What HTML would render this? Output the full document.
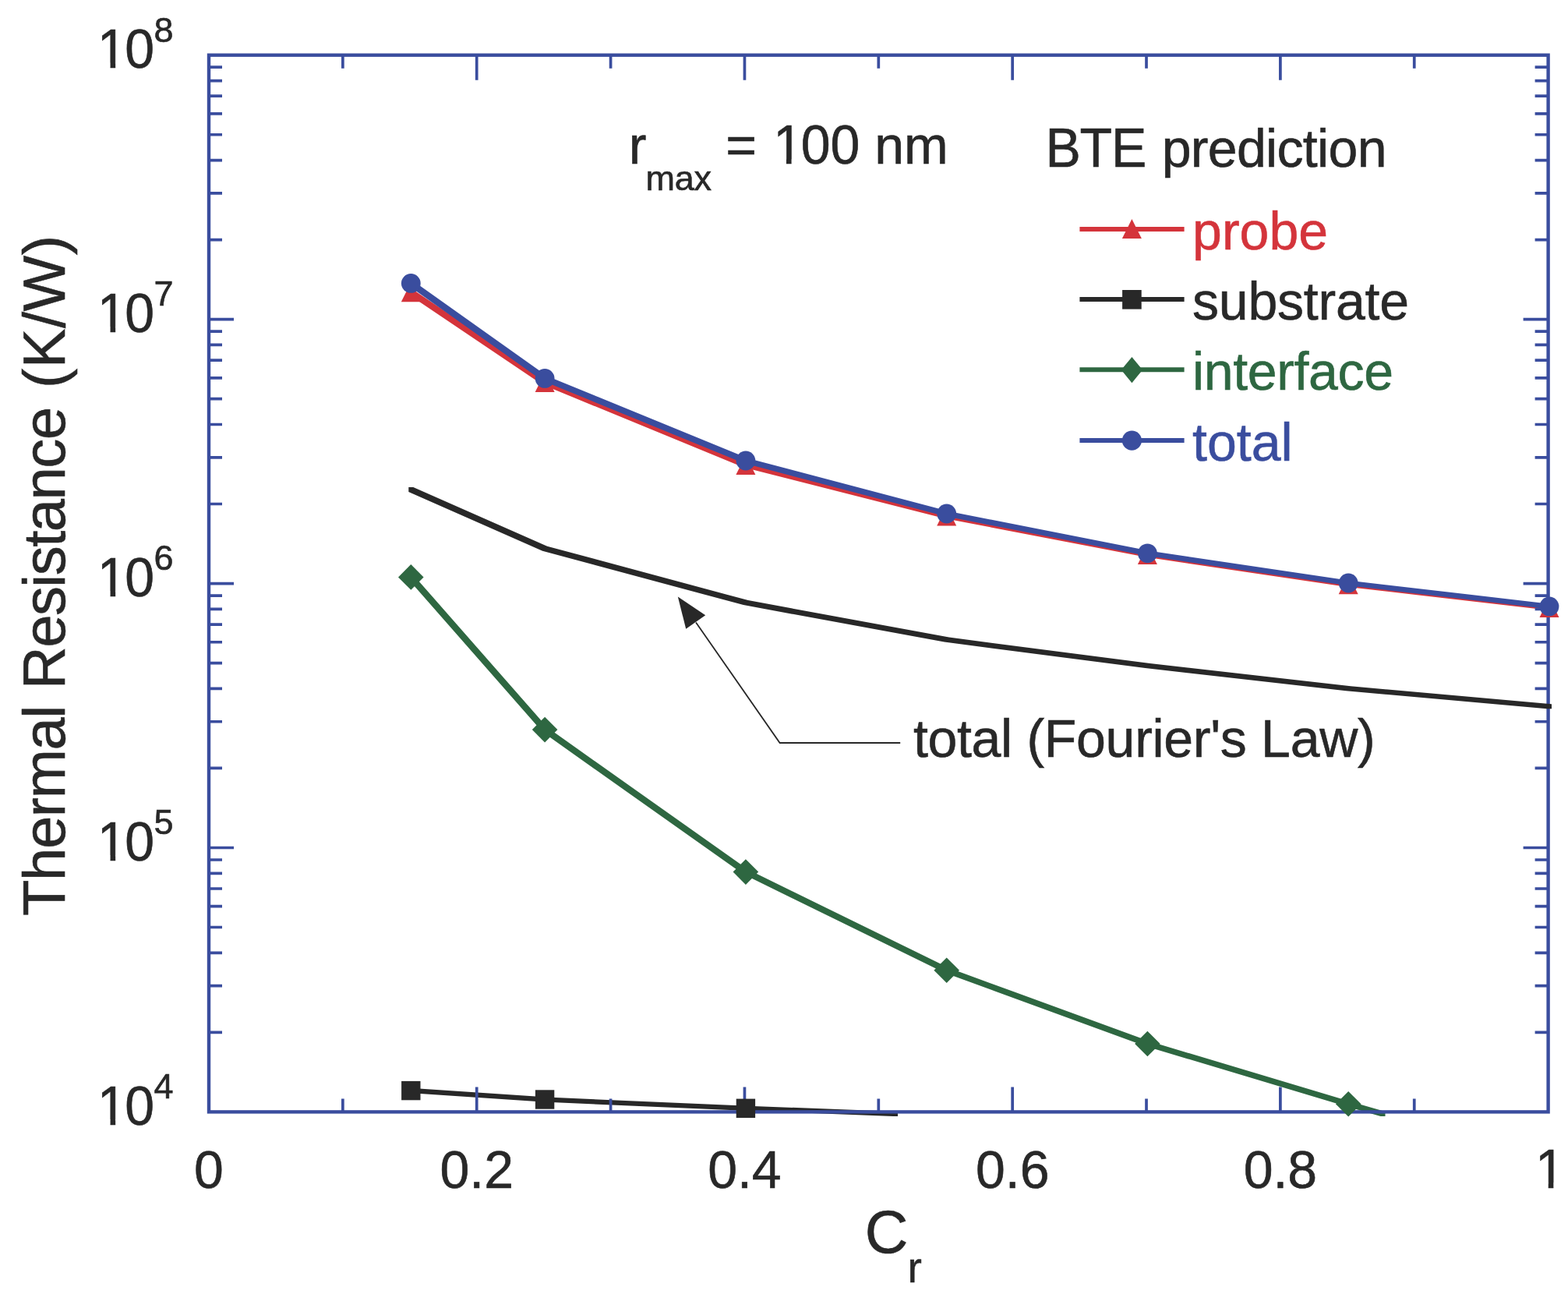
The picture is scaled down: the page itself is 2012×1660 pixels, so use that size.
<!DOCTYPE html><html><head><meta charset="utf-8"><title>Thermal Resistance vs Cr</title><style>html,body{margin:0;padding:0;background:#fff;overflow:hidden}svg{display:block}text{font-family:'Liberation Sans', Arial, sans-serif;stroke-width:0.6px}</style></head><body>
<svg width="2012" height="1660" viewBox="0 0 2012 1660">
<defs><clipPath id="lc1" clipPathUnits="userSpaceOnUse"><rect x="-40" y="-136" width="440" height="129.92"/><rect x="-40.00" y="-7.08" width="45.44" height="68"/><rect x="19.06" y="-7.08" width="6.60" height="68"/><rect x="38.75" y="-7.08" width="361.25" height="68"/></clipPath></defs>
<rect width="2012" height="1660" fill="#fff"/>
<path d="M524.3 737.4L530.3 737.4L702.1 933.1L702.1 939.1L696.1 939.1L524.3 743.4ZM696.1 933.1L702.1 933.1L959.9 1115.6L959.9 1121.6L953.9 1121.6L696.1 939.1ZM953.9 1115.6L959.9 1115.6L1217.7 1241.8L1217.7 1247.8L1211.7 1247.8L953.9 1121.6ZM1211.7 1241.8L1217.7 1241.8L1475.5 1336.0L1475.5 1342.0L1469.5 1342.0L1211.7 1247.8ZM1469.5 1336.0L1475.5 1336.0L1733.2 1413.2L1733.2 1419.2L1727.2 1419.2L1469.5 1342.0ZM1727.2 1413.2L1733.2 1413.2L1777.5 1425.9L1777.5 1431.9L1771.5 1431.9L1727.2 1419.2Z" fill="#2e6741"/>
<path d="M524.3 1396.1L530.3 1396.1L702.1 1407.5L702.1 1413.5L696.1 1413.5L524.3 1402.1ZM696.1 1407.5L702.1 1407.5L959.9 1418.8L959.9 1424.8L953.9 1424.8L696.1 1413.5ZM953.9 1418.8L959.9 1418.8L1152.0 1425.9L1152.0 1431.9L1146.0 1431.9L953.9 1424.8Z" fill="#282828"/>
<path d="M524.3 371.8L530.3 371.8L702.1 487.5L702.1 493.5L696.1 493.5L524.3 377.8ZM696.1 487.5L702.1 487.5L959.9 593.4L959.9 599.4L953.9 599.4L696.1 493.5ZM953.9 593.4L959.9 593.4L1217.7 659.0L1217.7 665.0L1211.7 665.0L953.9 599.4ZM1211.7 659.0L1217.7 659.0L1475.5 708.6L1475.5 714.6L1469.5 714.6L1211.7 665.0ZM1469.5 708.6L1475.5 708.6L1733.2 746.7L1733.2 752.7L1727.2 752.7L1469.5 714.6ZM1727.2 746.7L1733.2 746.7L1991.0 776.6L1991.0 782.6L1985.0 782.6L1727.2 752.7Z" fill="#d4343b"/>
<path d="M524.3 360.4L530.3 360.4L702.1 482.4L702.1 488.4L696.1 488.4L524.3 366.4ZM696.1 482.4L702.1 482.4L959.9 588.0L959.9 594.0L953.9 594.0L696.1 488.4ZM953.9 588.0L959.9 588.0L1217.7 656.0L1217.7 662.0L1211.7 662.0L953.9 594.0ZM1211.7 656.0L1217.7 656.0L1475.5 706.8L1475.5 712.8L1469.5 712.8L1211.7 662.0ZM1469.5 706.8L1475.5 706.8L1733.2 745.0L1733.2 751.0L1727.2 751.0L1469.5 712.8ZM1727.2 745.0L1733.2 745.0L1991.0 774.9L1991.0 780.9L1985.0 780.9L1727.2 751.0Z" fill="#3a4d9e"/>
<rect x="268.0" y="70.7" width="1718.6" height="1355.7" fill="none" stroke="#3a4d9e" stroke-width="4.4"/>
<path d="M439.86 1426.4v-17.0M439.86 70.7v17.0M611.72 1426.4v-32.0M611.72 70.7v32.0M783.58 1426.4v-17.0M783.58 70.7v17.0M955.44 1426.4v-32.0M955.44 70.7v32.0M1127.30 1426.4v-17.0M1127.30 70.7v17.0M1299.16 1426.4v-32.0M1299.16 70.7v32.0M1471.02 1426.4v-17.0M1471.02 70.7v17.0M1642.88 1426.4v-32.0M1642.88 70.7v32.0M1814.74 1426.4v-17.0M1814.74 70.7v17.0M268.0 1324.37h17.0M1986.6 1324.37h-17.0M268.0 1264.69h17.0M1986.6 1264.69h-17.0M268.0 1222.35h17.0M1986.6 1222.35h-17.0M268.0 1189.50h17.0M1986.6 1189.50h-17.0M268.0 1162.67h17.0M1986.6 1162.67h-17.0M268.0 1139.98h17.0M1986.6 1139.98h-17.0M268.0 1120.32h17.0M1986.6 1120.32h-17.0M268.0 1102.98h17.0M1986.6 1102.98h-17.0M268.0 1087.48h32.0M1986.6 1087.48h-32.0M268.0 985.45h17.0M1986.6 985.45h-17.0M268.0 925.77h17.0M1986.6 925.77h-17.0M268.0 883.42h17.0M1986.6 883.42h-17.0M268.0 850.58h17.0M1986.6 850.58h-17.0M268.0 823.74h17.0M1986.6 823.74h-17.0M268.0 801.05h17.0M1986.6 801.05h-17.0M268.0 781.40h17.0M1986.6 781.40h-17.0M268.0 764.06h17.0M1986.6 764.06h-17.0M268.0 748.55h32.0M1986.6 748.55h-32.0M268.0 646.52h17.0M1986.6 646.52h-17.0M268.0 586.84h17.0M1986.6 586.84h-17.0M268.0 544.50h17.0M1986.6 544.50h-17.0M268.0 511.65h17.0M1986.6 511.65h-17.0M268.0 484.82h17.0M1986.6 484.82h-17.0M268.0 462.13h17.0M1986.6 462.13h-17.0M268.0 442.47h17.0M1986.6 442.47h-17.0M268.0 425.13h17.0M1986.6 425.13h-17.0M268.0 409.62h32.0M1986.6 409.62h-32.0M268.0 307.60h17.0M1986.6 307.60h-17.0M268.0 247.92h17.0M1986.6 247.92h-17.0M268.0 205.57h17.0M1986.6 205.57h-17.0M268.0 172.73h17.0M1986.6 172.73h-17.0M268.0 145.89h17.0M1986.6 145.89h-17.0M268.0 123.20h17.0M1986.6 123.20h-17.0M268.0 103.55h17.0M1986.6 103.55h-17.0M268.0 86.21h17.0M1986.6 86.21h-17.0" stroke="#3a4d9e" stroke-width="3.7" fill="none"/>
<path d="M524.3 624.9L530.3 624.9L702.1 700.7L702.1 706.7L696.1 706.7L524.3 630.9ZM696.1 700.7L702.1 700.7L959.9 770.1L959.9 776.1L953.9 776.1L696.1 706.7ZM953.9 770.1L959.9 770.1L1217.7 817.6L1217.7 823.6L1211.7 823.6L953.9 776.1ZM1211.7 817.6L1217.7 817.6L1475.5 851.0L1475.5 857.0L1469.5 857.0L1211.7 823.6ZM1469.5 851.0L1475.5 851.0L1733.2 880.2L1733.2 886.2L1727.2 886.2L1469.5 857.0ZM1727.2 880.2L1733.2 880.2L1991.0 903.2L1991.0 909.2L1985.0 909.2L1727.2 886.2Z" fill="#282828"/>
<polygon points="527.3,724.1 543.6,740.4 527.3,756.7 511.0,740.4" fill="#2e6741"/>
<polygon points="699.1,919.8 715.4,936.1 699.1,952.4 682.8,936.1" fill="#2e6741"/>
<polygon points="956.9,1102.3 973.2,1118.6 956.9,1134.9 940.6,1118.6" fill="#2e6741"/>
<polygon points="1214.7,1228.5 1231.0,1244.8 1214.7,1261.1 1198.4,1244.8" fill="#2e6741"/>
<polygon points="1472.4,1322.7 1488.7,1339.0 1472.4,1355.3 1456.1,1339.0" fill="#2e6741"/>
<polygon points="1730.2,1399.9 1746.5,1416.2 1730.2,1432.5 1713.9,1416.2" fill="#2e6741"/>
<rect x="515.1" y="1386.9" width="24.4" height="24.4" fill="#282828"/>
<rect x="686.9" y="1398.3" width="24.4" height="24.4" fill="#282828"/>
<rect x="944.7" y="1409.6" width="24.4" height="24.4" fill="#282828"/>
<polygon points="527.3,362.3 539.8,387.3 514.8,387.3" fill="#d4343b"/>
<polygon points="699.1,478.0 711.6,503.0 686.6,503.0" fill="#d4343b"/>
<polygon points="956.9,583.9 969.4,608.9 944.4,608.9" fill="#d4343b"/>
<polygon points="1214.7,649.5 1227.2,674.5 1202.2,674.5" fill="#d4343b"/>
<polygon points="1472.4,699.1 1484.9,724.1 1459.9,724.1" fill="#d4343b"/>
<polygon points="1730.2,737.2 1742.7,762.2 1717.7,762.2" fill="#d4343b"/>
<polygon points="1988.0,767.1 2000.5,792.1 1975.5,792.1" fill="#d4343b"/>
<circle cx="527.3" cy="363.4" r="12.4" fill="#3a4d9e"/>
<circle cx="699.1" cy="485.4" r="12.4" fill="#3a4d9e"/>
<circle cx="956.9" cy="591.0" r="12.4" fill="#3a4d9e"/>
<circle cx="1214.7" cy="659.0" r="12.4" fill="#3a4d9e"/>
<circle cx="1472.4" cy="709.8" r="12.4" fill="#3a4d9e"/>
<circle cx="1730.2" cy="748.0" r="12.4" fill="#3a4d9e"/>
<circle cx="1988.0" cy="777.9" r="12.4" fill="#3a4d9e"/>
<path d="M1155.2 953.0H1000.6L893 798.5" stroke="#282828" stroke-width="1.8" fill="none" stroke-linejoin="miter"/>
<polygon points="869.8,765.5 905.2,789.2 880.2,806.7" fill="#282828"/>
<path d="M1385.4 293.9H1519.6" stroke="#d4343b" stroke-width="6.0"/>
<path d="M1385.4 383.9H1519.6" stroke="#282828" stroke-width="6.0"/>
<path d="M1385.4 474.3H1519.6" stroke="#2e6741" stroke-width="6.0"/>
<path d="M1385.4 565.0H1519.6" stroke="#3a4d9e" stroke-width="6.0"/>
<polygon points="1452.4,281.1 1464.9,306.1 1439.9,306.1" fill="#d4343b"/>
<rect x="1440.1" y="372.0" width="24.6" height="24.6" fill="#282828"/>
<polygon points="1452.4,458.0 1466.1,474.6 1452.4,491.2 1438.7,474.6" fill="#2e6741"/>
<circle cx="1452.4" cy="565.1" r="12.6" fill="#3a4d9e"/>
<text x="1530.1" y="319.7" font-size="68" fill="#d4343b" stroke="#d4343b">probe</text>
<text x="1530.1" y="409.9" font-size="68" fill="#282828" stroke="#282828" style="letter-spacing:-0.22px">substrate</text>
<text x="1530.1" y="500.4" font-size="68" fill="#2e6741" stroke="#2e6741" style="letter-spacing:-0.37px">interface</text>
<text x="1530.1" y="590.6" font-size="68" fill="#3a4d9e" stroke="#3a4d9e">total</text>
<text x="806.8" y="210.3" font-size="68" fill="#282828" stroke="#282828">r</text>
<text x="828.5" y="243.7" font-size="45" fill="#282828" stroke="#282828" style="letter-spacing:-0.3px">max</text>
<text x="931.3" y="210.3" font-size="68" fill="#282828" stroke="#282828">=</text>
<text transform="translate(989.90 210.30) scale(1 1.025)" y="0" font-size="68" fill="#282828" stroke="#282828" clip-path="url(#lc1)"><tspan x="2.26">1</tspan><tspan x="37.82">0</tspan><tspan x="75.64">0</tspan></text>
<text x="1122.25" y="210.3" font-size="68" fill="#282828" stroke="#282828">nm</text>
<text transform="translate(1341.4 213.9) scale(1 1.04)" x="0" y="0" font-size="68" fill="#282828" stroke="#282828" style="letter-spacing:-1.2px">BTE</text>
<text x="1490.7" y="213.9" font-size="68" fill="#282828" stroke="#282828" style="letter-spacing:-0.67px">prediction</text>
<text x="1171.9" y="970.6" font-size="68" fill="#282828" stroke="#282828" style="letter-spacing:-0.3px">total (Fourier&#39;s Law)</text>
<text x="268.0" y="1523.8" font-size="68" fill="#282828" stroke="#282828" text-anchor="middle">0</text>
<text x="611.7" y="1523.8" font-size="68" fill="#282828" stroke="#282828" text-anchor="middle">0.2</text>
<text x="955.4" y="1523.8" font-size="68" fill="#282828" stroke="#282828" text-anchor="middle">0.4</text>
<text x="1299.2" y="1523.8" font-size="68" fill="#282828" stroke="#282828" text-anchor="middle">0.6</text>
<text x="1642.9" y="1523.8" font-size="68" fill="#282828" stroke="#282828" text-anchor="middle">0.8</text>
<text transform="translate(1967.69 1523.80) scale(1 1.04)" y="0" font-size="68" fill="#282828" stroke="#282828" clip-path="url(#lc1)"><tspan x="2.26">1</tspan></text>
<text transform="translate(122.50 1442.60) scale(1 1.025)" y="0" font-size="68" fill="#282828" stroke="#282828" clip-path="url(#lc1)"><tspan x="2.26">1</tspan><tspan x="37.82">0</tspan></text>
<text x="197.4" y="1409.2" font-size="45" fill="#282828" stroke="#282828">4</text>
<text transform="translate(122.50 1103.68) scale(1 1.025)" y="0" font-size="68" fill="#282828" stroke="#282828" clip-path="url(#lc1)"><tspan x="2.26">1</tspan><tspan x="37.82">0</tspan></text>
<text x="197.4" y="1070.3" font-size="45" fill="#282828" stroke="#282828">5</text>
<text transform="translate(122.50 764.75) scale(1 1.025)" y="0" font-size="68" fill="#282828" stroke="#282828" clip-path="url(#lc1)"><tspan x="2.26">1</tspan><tspan x="37.82">0</tspan></text>
<text x="197.4" y="731.4" font-size="45" fill="#282828" stroke="#282828">6</text>
<text transform="translate(122.50 425.82) scale(1 1.025)" y="0" font-size="68" fill="#282828" stroke="#282828" clip-path="url(#lc1)"><tspan x="2.26">1</tspan><tspan x="37.82">0</tspan></text>
<text x="197.4" y="392.4" font-size="45" fill="#282828" stroke="#282828">7</text>
<text transform="translate(122.50 86.90) scale(1 1.025)" y="0" font-size="68" fill="#282828" stroke="#282828" clip-path="url(#lc1)"><tspan x="2.26">1</tspan><tspan x="37.82">0</tspan></text>
<text x="197.4" y="53.5" font-size="45" fill="#282828" stroke="#282828">8</text>
<text x="1109.7" y="1606.8" font-size="77" fill="#282828" stroke="#282828">C</text>
<text x="1164.5" y="1645.0" font-size="55" fill="#282828" stroke="#282828">r</text>
<text transform="translate(83.2,1175.0) rotate(-90)" x="0" y="0" font-size="76" fill="#282828" stroke="#282828" style="letter-spacing:-1.4px">Thermal</text>
<text transform="translate(83.2,884.2) rotate(-90)" x="0" y="0" font-size="76" fill="#282828" stroke="#282828" style="letter-spacing:-1.53px">Resistance</text>
<text transform="translate(83.2,498.0) rotate(-90)" x="0" y="0" font-size="76" fill="#282828" stroke="#282828" style="letter-spacing:0.5px">(K/W)</text>
</svg></body></html>
